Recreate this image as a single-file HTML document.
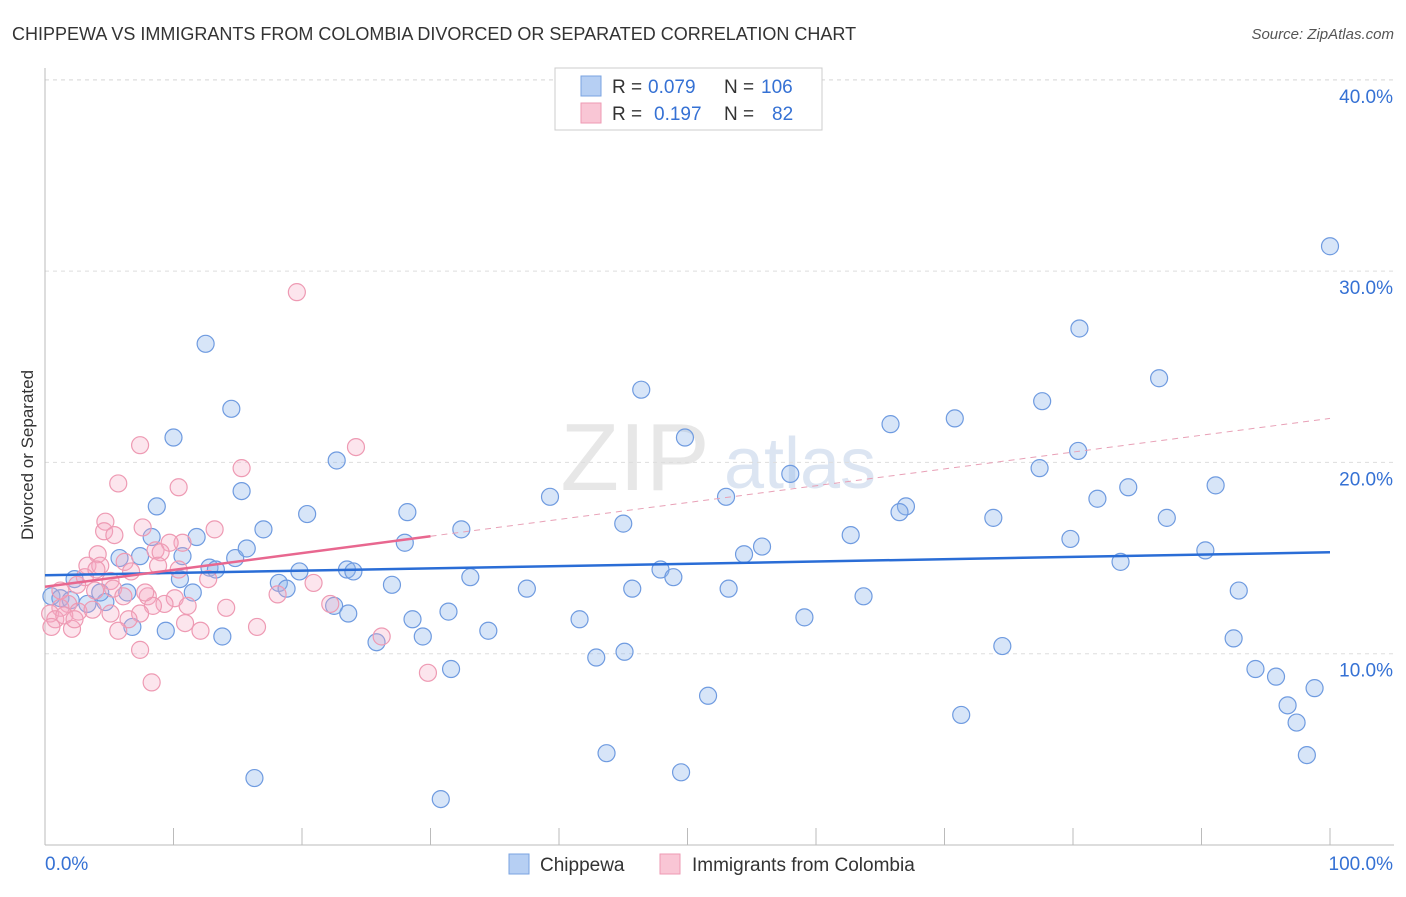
<!DOCTYPE html>
<html><head><meta charset="utf-8"><style>
body{margin:0;background:#fff;font-family:"Liberation Sans",sans-serif;}
svg text{font-family:"Liberation Sans",sans-serif;}
</style></head><body>
<svg id="chart" width="1406" height="892" xmlns="http://www.w3.org/2000/svg">
<text x="12" y="40" font-size="18" fill="#333">CHIPPEWA VS IMMIGRANTS FROM COLOMBIA DIVORCED OR SEPARATED CORRELATION CHART</text>
<text x="1394" y="39" font-size="15" fill="#555" text-anchor="end" font-style="italic">Source: ZipAtlas.com</text>
<text transform="translate(33,455) rotate(-90)" font-size="17" fill="#333" text-anchor="middle">Divorced or Separated</text>
<g>
<text x="635" y="490" font-size="96" fill="#d8d8d8" font-family="Liberation Serif" text-anchor="middle" opacity="0.6">ZIP</text>
<text x="800" y="488" font-size="72" fill="#c5d5ea" text-anchor="middle" opacity="0.6">atlas</text>
</g>
<g id="grid"></g>
<g id="axes"></g>
<g id="pts"></g>
<g id="trends"></g>
<g>
<rect x="555" y="68" width="267" height="62" fill="#fff" stroke="#ccc"/>
<rect x="581" y="76" width="20" height="20" fill="#b6cff3" stroke="#7aa3e0"/>
<rect x="581" y="103" width="20" height="20" fill="#f9c6d5" stroke="#ee9ab3"/>
<text x="612" y="93" font-size="19" fill="#333">R =</text>
<text x="648" y="93" font-size="19" fill="#3571d4">0.079</text>
<text x="724" y="93" font-size="19" fill="#333">N =</text>
<text x="761" y="93" font-size="19" fill="#3571d4">106</text>
<text x="612" y="120" font-size="19" fill="#333">R =</text>
<text x="654" y="120" font-size="19" fill="#3571d4">0.197</text>
<text x="724" y="120" font-size="19" fill="#333">N =</text>
<text x="772" y="120" font-size="19" fill="#3571d4">82</text>
</g>
<g>
<rect x="509" y="854" width="20" height="20" fill="#b6cff3" stroke="#7aa3e0"/>
<text x="540" y="871" font-size="19" fill="#333">Chippewa</text>
<rect x="660" y="854" width="20" height="20" fill="#f9c6d5" stroke="#ee9ab3"/>
<text x="692" y="871" font-size="19" fill="#333">Immigrants from Colombia</text>
</g>
</svg>
<script>
const blueX=[100,80.5,86.7,77.6,70.8,65.8,46.4,49.8,80.4,77.4,58.0,53.0,84.3,81.9,91.1,67.0,66.5,73.8,87.3,45.0,62.7,79.8,55.8,54.4,90.3,83.7,47.9,48.9,45.7,53.2,92.9,63.7,59.1,92.5,74.5,45.1,42.9,94.2,95.8,98.8,96.7,97.4,51.6,71.3,98.2,43.7,49.5,30.8,16.3,12.5,14.5,10.0,22.7,15.3,8.7,20.4,28.2,39.3,17.0,32.4,8.3,11.8,28.0,7.4,5.8,10.7,14.8,15.7,12.8,13.3,19.8,23.5,24.0,33.1,37.5,10.5,18.2,18.8,27.0,2.3,6.4,11.5,4.7,22.5,31.4,23.6,28.6,41.6,6.8,9.4,34.5,29.4,13.8,25.8,31.6,0.5,1.2,2.0,4.3,3.3];
const blueY=[31.3,27.0,24.4,23.2,22.3,22.0,23.8,21.3,20.6,19.7,19.4,18.2,18.7,18.1,18.8,17.7,17.4,17.1,17.1,16.8,16.2,16.0,15.6,15.2,15.4,14.8,14.4,14.0,13.4,13.4,13.3,13.0,11.9,10.8,10.4,10.1,9.8,9.2,8.8,8.2,7.3,6.4,7.8,6.8,4.7,4.8,3.8,2.4,3.5,26.2,22.8,21.3,20.1,18.5,17.7,17.3,17.4,18.2,16.5,16.5,16.1,16.1,15.8,15.1,15.0,15.1,15.0,15.5,14.5,14.4,14.3,14.4,14.3,14.0,13.4,13.9,13.7,13.4,13.6,13.9,13.2,13.2,12.7,12.5,12.2,12.1,11.8,11.8,11.4,11.2,11.2,10.9,10.9,10.6,9.2,13.0,12.9,12.8,13.2,12.6];
const pinkX=[19.6,7.4,24.2,15.3,5.7,10.4,4.7,7.6,13.2,4.6,5.4,10.7,9.7,8.6,9.0,4.1,6.2,3.3,4.3,4.0,8.8,10.4,6.7,3.1,5.1,12.7,20.9,2.5,5.3,3.9,6.1,8.0,10.1,18.1,1.8,9.3,8.4,11.1,14.1,22.2,1.2,2.6,3.7,0.4,0.8,1.5,7.4,6.5,10.9,16.5,0.5,2.1,5.7,12.1,26.2,7.4,29.8,8.3,1.2,2.3,7.8,5.1];
const pinkY=[28.9,20.9,20.8,19.7,18.9,18.7,16.9,16.6,16.5,16.4,16.2,15.8,15.8,15.4,15.3,15.2,14.8,14.6,14.6,14.4,14.6,14.4,14.3,14.0,13.8,13.9,13.7,13.6,13.4,13.3,13.0,13.0,12.9,13.1,12.6,12.6,12.5,12.5,12.4,12.6,12.4,12.2,12.3,12.1,11.8,12.0,12.1,11.8,11.6,11.4,11.4,11.3,11.2,11.2,10.9,10.2,9.0,8.5,13.3,11.8,13.2,12.1];
const blueTrend=[14.1,15.3];
const pinkTrend=[13.5,22.3];
const pinkSolidEnd=30;
const yTicks=[10,20,30,40];
const yTickLabels=["10.0%","20.0%","30.0%","40.0%"];
const xTicks=[0,10,20,30,40,50,60,70,80,90,100];

const NS="http://www.w3.org/2000/svg";
const X=v=>45+v*12.85, Y=v=>845-v*19.13;
function mk(tag,attrs,parent){const e=document.createElementNS(NS,tag);for(const k in attrs)e.setAttribute(k,attrs[k]);document.getElementById(parent).appendChild(e);return e;}
yTicks.forEach((t,i)=>{
  const g=mk('line',{x1:45,x2:1394,y1:Y(t),y2:Y(t),stroke:'#ddd','stroke-dasharray':'4,4'},'grid');
  
  
  const l=mk('text',{x:1393,y:Y(t)+23,'font-size':19,fill:'#3571d4','text-anchor':'end'},'grid');
  l.textContent=yTickLabels[i];
  
  
});
const topGrid=mk('line',{x1:45,x2:1394,y1:80,y2:80,stroke:'#ddd','stroke-dasharray':'4,4'},'grid');


const ya=mk('line',{x1:45,x2:45,y1:68,y2:845,stroke:'#bbb'},'axes');


const xa=mk('line',{x1:45,x2:1394,y1:845,y2:845,stroke:'#bbb'},'axes');


xTicks.forEach(t=>{
  const k=mk('line',{x1:X(t),x2:X(t),y1:828,y2:845,stroke:'#bbb'},'axes');
  
  
});
const xl0=mk('text',{x:45,y:870,'font-size':19,fill:'#3571d4'},'axes');xl0.textContent='0.0%';


const xl1=mk('text',{x:1393,y:870,'font-size':19,fill:'#3571d4','text-anchor':'end'},'axes');xl1.textContent='100.0%';


blueX.forEach((x,i)=>{
  const c=mk('circle',{cx:X(x),cy:Y(blueY[i]),r:8.5,fill:'rgba(140,180,235,0.35)',stroke:'#6f9be0','stroke-width':1.2},'pts');
  
  
});
pinkX.forEach((x,i)=>{
  const c=mk('circle',{cx:X(x),cy:Y(pinkY[i]),r:8.5,fill:'rgba(245,170,195,0.3)',stroke:'#ee9ab3','stroke-width':1.2},'pts');
  
  
});
const bt=mk('line',{x1:X(0),x2:X(100),y1:Y(blueTrend[0]),y2:Y(blueTrend[1]),stroke:'#2a6dd6','stroke-width':2.5},'trends');


const pv=x=>pinkTrend[0]+(pinkTrend[1]-pinkTrend[0])*x/100;
const pt=mk('line',{x1:X(0),x2:X(pinkSolidEnd),y1:Y(pv(0)),y2:Y(pv(pinkSolidEnd)),stroke:'#e8678f','stroke-width':2.5},'trends');


const pd=mk('line',{x1:X(pinkSolidEnd),x2:X(100),y1:Y(pv(pinkSolidEnd)),y2:Y(pv(100)),stroke:'#e8a0b6','stroke-width':1,'stroke-dasharray':'6,5'},'trends');


</script>
</body></html>
